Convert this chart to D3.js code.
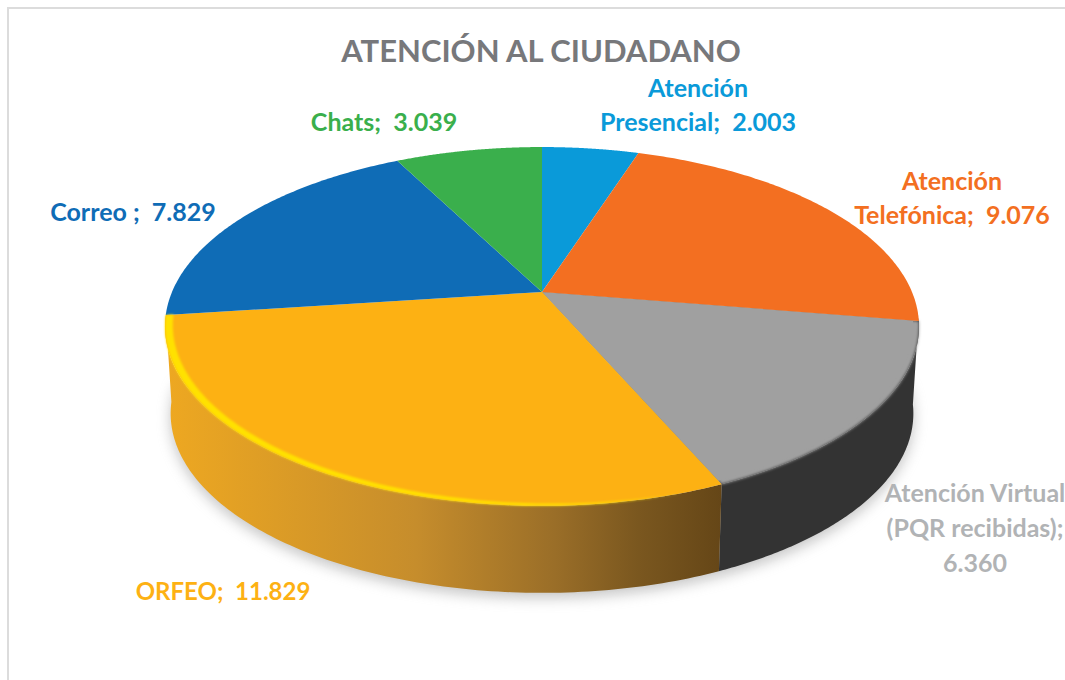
<!DOCTYPE html>
<html>
<head>
<meta charset="utf-8">
<script src="https://cdn.jsdelivr.net/npm/d3@7"></script>
<style>
html,body{margin:0;padding:0;background:#fff;overflow:hidden}
svg{display:block}
text{font-family:Lato,"Open Sans",sans-serif;font-weight:700;white-space:pre}
</style>
</head>
<body>
<svg id="c" width="1065" height="680"></svg>
<script>
const title = "ATENCIÓN AL CIUDADANO";
const categories = ["Atención Presencial","Atención Telefónica","Atención Virtual (PQR recibidas)","ORFEO","Correo ","Chats"];
const values = [2003,9076,6360,11829,7829,3039];
const colors = ["#0a9ad9","#f36f21","#a0a0a0","#fdb113","#0f6cb6","#3aaf4c"];
const labelColors = ["#0a9ad9","#f36f21","#b1b3b5","#fdb113","#0f6cb6","#3aaf4c"];
const labelLines = [
  ["Atención","Presencial;  {v}"],
  ["Atención","Telefónica;  {v}"],
  ["Atención Virtual","(PQR recibidas);","{v}"],
  ["ORFEO;  {v}"],
  ["Correo ;  {v}"],
  ["Chats;  {v}"]
];
const labelX = [698,952,975,223,133,384];
const labelY = [97,190,502,600,221,131];
const labelStep = [34,34,35,0,0,0];
const labelSize = [25,25,25,24,25,25];

const W=1065,H=680;
const svg=d3.select("#c");
const defs=svg.append("defs");
const fmt=d3.formatLocale({decimal:",",thousands:".",grouping:[3],currency:["",""]}).format(",d");

// perspective-projected disc
const cx=542, cy=292, A=370, B=172.8, k=0.192, depth=87, shrink=0.985;
function proj(theta,r=1){
  const u=r*Math.sin(theta), v=-r*Math.cos(theta), w=1-k*v;
  return [cx+A*u/w, cy+B*v/w];
}
function projLow(theta){
  const p=proj(theta);
  return [cx+(p[0]-cx)*shrink, p[1]+depth];
}
const line=d3.line();
const arcPts=(a0,a1,f=proj)=>d3.range(0,121).map(i=>f(a0+(a1-a0)*i/120));

const pie=d3.pie().sort(null).value(d=>d);
const arcs=pie(values);

// filters & gradients
const blur=(id,s)=>defs.append("filter").attr("id",id)
  .attr("x","-10%").attr("y","-10%").attr("width","120%").attr("height","120%")
  .append("feGaussianBlur").attr("stdDeviation",s);
blur("bShadow",7); blur("bSoft",1.6); blur("bRim",0.8);
const gold=defs.append("linearGradient").attr("id","goldWall")
  .attr("gradientUnits","userSpaceOnUse").attr("x1",165).attr("x2",722).attr("y1",0).attr("y2",0);
[[0,"#eea821"],[0.2,"#dc9c26"],[0.45,"#c68d2c"],[0.7,"#9a6e28"],[0.85,"#7a571f"],[1,"#654617"]]
  .forEach(s=>gold.append("stop").attr("offset",s[0]).attr("stop-color",s[1]));

// frame
const frame=svg.append("g").attr("stroke","#dcdcdc").attr("stroke-width",2).attr("fill","none");
frame.append("path").attr("d",line([[8,H],[8,8],[W,8]]));

// soft shadow beneath the disc
const lowAll=arcPts(Math.PI*0.5,Math.PI*1.5,projLow);
svg.append("path").attr("d",line(lowAll.map(p=>[p[0],p[1]+5]))+"Z")
  .attr("fill","#8a8a8a").attr("opacity",0.5).attr("filter","url(#bShadow)");

// walls
function wall(a0,a1){
  return line(arcPts(a0,a1).concat(arcPts(a0,a1,projLow).reverse()))+"Z";
}
const gray=arcs[2], orf=arcs[3], ora=arcs[1];
const slice=(d,r=1)=>line([[cx,cy]].concat(arcPts(d.startAngle,d.endAngle).map((p,i,all)=>{
  return proj(d.startAngle+(d.endAngle-d.startAngle)*i/(all.length-1),r);
})))+"Z";

svg.append("path").attr("d",wall(ora.endAngle-0.02,gray.endAngle)).attr("fill","#333333");
svg.append("path").attr("d",slice(gray)).attr("fill","#333333");
// gray top with a soft edge into the dark wall
svg.append("path").attr("d",slice(gray)).attr("fill",colors[2]).attr("filter","url(#bSoft)");
svg.append("path").attr("d",slice(gray,0.985)).attr("fill",colors[2]);
svg.append("path").attr("d",wall(orf.startAngle,orf.endAngle)).attr("fill","url(#goldWall)");

// crisp tops
arcs.forEach((d,i)=>{
  if(i===2) return;
  svg.append("path").attr("d",slice(d)).attr("fill",colors[i]);
});

// bright rim along the gold slice
const rimA=orf.endAngle, rimB=orf.startAngle+0.1;
const rimOuter=arcPts(rimA,rimB);
const rimInner=d3.range(0,121).map(i=>{
  const t=i/120;
  return proj(rimA+(rimB-rimA)*t,1-0.02*(1-t*t*t));
});
svg.append("path").attr("d",line(rimOuter.concat(rimInner.reverse()))+"Z")
  .attr("fill","#ffe100").attr("filter","url(#bRim)");

// title
svg.append("text").attr("x",541).attr("y",62).attr("text-anchor","middle")
  .attr("font-size",31).attr("fill","#77787b").text(title);

// labels
labelLines.forEach((lines,i)=>{
  lines.forEach((t,j)=>{
    svg.append("text").attr("x",labelX[i]).attr("y",labelY[i]+j*labelStep[i])
      .attr("text-anchor","middle").attr("font-size",labelSize[i]).attr("fill",labelColors[i])
      .text(t.replace("{v}",fmt(values[i])));
  });
});
</script>
</body>
</html>
